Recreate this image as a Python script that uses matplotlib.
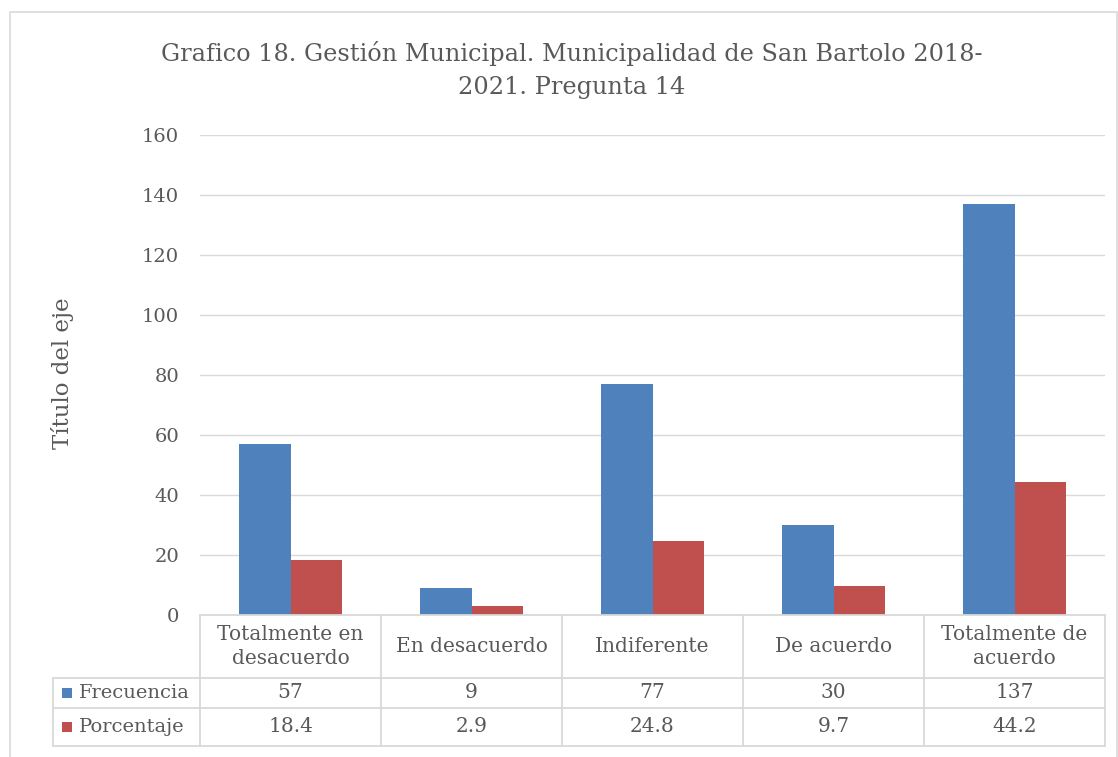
import matplotlib
matplotlib.use("Agg")
import matplotlib.pyplot as plt
import matplotlib.transforms as mtransforms
from matplotlib.patches import Rectangle
from matplotlib.lines import Line2D

categories = ["Totalmente en\ndesacuerdo", "En desacuerdo", "Indiferente", "De acuerdo", "Totalmente de\nacuerdo"]
frecuencia = [57, 9, 77, 30, 137]
porcentaje = [18.4, 2.9, 24.8, 9.7, 44.2]
series_names = ["Frecuencia", "Porcentaje"]
yticks = [0, 20, 40, 60, 80, 100, 120, 140, 160]
title = "Grafico 18. Gestión Municipal. Municipalidad de San Bartolo 2018-\n2021. Pregunta 14"
ylabel = "Título del eje"

BLUE = "#4F81BD"
RED = "#C0504D"
GRID = "#D9D9D9"
TXT = "#595959"

plt.rcParams['font.family'] = ['DejaVu Serif']

W, H = 1118, 757
fig = plt.figure(figsize=(W / 100, H / 100), dpi=100)

def fx(px):
    return px / W

def fy(py):
    return 1 - py / H

# outer frame
fig.patches.append(Rectangle((fx(10), fy(770)), fx(1117) - fx(10), fy(12) - fy(770),
                             transform=fig.transFigure, fill=False, edgecolor=GRID, lw=1.2))

ax_left, ax_right, ax_bottom, ax_top = 200, 1105, 615, 135
ax = fig.add_axes([fx(ax_left), fy(ax_bottom), fx(ax_right) - fx(ax_left), fy(ax_top) - fy(ax_bottom)])

n = len(categories)
x = list(range(n))
bw = 0.287
ax.bar([i - bw / 2 for i in x], frecuencia, width=bw, color=BLUE, zorder=3)
ax.bar([i + bw / 2 for i in x], porcentaje, width=bw, color=RED, zorder=3)

ax.set_xlim(-0.5, n - 0.5)
ax.set_ylim(0, 160)
ax.set_yticks(yticks)
ax.set_yticklabels([str(t) for t in yticks], fontsize=14, color=TXT)
ax.tick_params(axis='y', length=0, pad=15)
ax.set_xticks([])
ax.yaxis.grid(True, color=GRID, lw=1, zorder=0)
for s in ax.spines.values():
    s.set_visible(False)

fig.text(fx(62), fy(373), ylabel, rotation=90, ha='center', va='center', fontsize=16.5, color=TXT)

fig.text(fx(572), fy(70), title, ha='center', va='center', fontsize=17.3, color=TXT, linespacing=1.6)

# data table below
trans = mtransforms.blended_transform_factory(ax.transData, fig.transFigure)
row_y = [615, 678, 708, 746]
left_px = 53
lines_kw = dict(color=GRID, lw=1.3, transform=fig.transFigure, clip_on=False)
fig.add_artist(Line2D([fx(ax_left), fx(ax_right)], [fy(row_y[0])] * 2, **lines_kw))
for ry in row_y[1:]:
    fig.add_artist(Line2D([fx(left_px), fx(ax_right)], [fy(ry)] * 2, **lines_kw))
for b in range(n + 1):
    xb = b - 0.5
    fig.add_artist(Line2D([xb, xb], [fy(row_y[0]), fy(row_y[3])], color=GRID, lw=1.3,
                          transform=trans, clip_on=False))
fig.add_artist(Line2D([fx(left_px)] * 2, [fy(row_y[1]), fy(row_y[3])], **lines_kw))

FS = 14.5
for i, c in enumerate(categories):
    fig.text(i, fy((row_y[0] + row_y[1]) / 2), c, transform=trans, ha='center', va='center',
             fontsize=FS, color=TXT, linespacing=1.3)
    fig.text(i, fy((row_y[1] + row_y[2]) / 2), str(frecuencia[i]), transform=trans,
             ha='center', va='center', fontsize=FS, color=TXT)
    fig.text(i, fy((row_y[2] + row_y[3]) / 2), f"{porcentaje[i]}", transform=trans,
             ha='center', va='center', fontsize=FS, color=TXT)

for k, (name, col) in enumerate(zip(series_names, [BLUE, RED])):
    cy = (row_y[1 + k] + row_y[2 + k]) / 2
    fig.patches.append(Rectangle((fx(62), fy(cy + 5)), fx(10), fy(cy - 5) - fy(cy + 5),
                                 transform=fig.transFigure, facecolor=col, edgecolor='none'))
    fig.text(fx(79), fy(cy), name, ha='left', va='center', fontsize=14, color=TXT)

fig.savefig("out.png", dpi=100, facecolor='white')
